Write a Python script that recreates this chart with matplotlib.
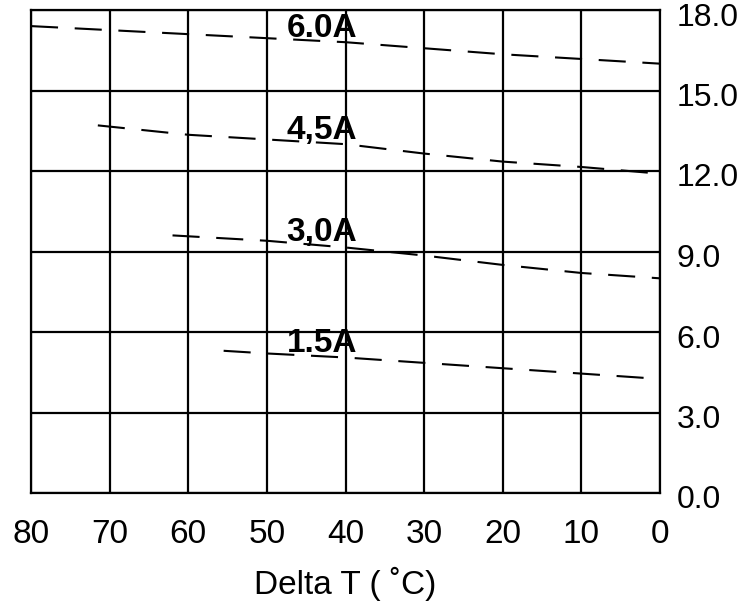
import numpy as np
import matplotlib
matplotlib.use('Agg')
from matplotlib import pyplot as plt
from matplotlib import transforms

# grid / axis ticks
x_ticks = [80, 70, 60, 50, 40, 30, 20, 10, 0]
y_ticks = [0.0, 3.0, 6.0, 9.0, 12.0, 15.0, 18.0]

# current curves (Delta T, value)
labels = ['6.0A', '4,5A', '3,0A', '1.5A']
dt_60 = [80, 60, 40, 20, 0]
v_60 = [17.4, 17.1, 16.8, 16.35, 16.0]
dt_45 = [71.5, 60, 40, 30, 20, 10, 0]
v_45 = [13.7, 13.35, 13.0, 12.65, 12.35, 12.15, 11.9]
dt_30 = [62, 50, 40, 30, 20, 10, 0]
v_30 = [9.6, 9.4, 9.15, 8.85, 8.5, 8.2, 8.0]
dt_15 = [55.5, 50, 40, 30, 20, 10, 0]
v_15 = [5.3, 5.2, 5.05, 4.85, 4.65, 4.45, 4.25]
curves = [(dt_60, v_60), (dt_45, v_45), (dt_30, v_30), (dt_15, v_15)]
label_dt = 43

plt.rcParams['font.family'] = ['Liberation Sans', 'DejaVu Sans']

fig = plt.figure(figsize=(7.56, 6.03), dpi=100)
ax = fig.add_axes([31/756, 1-493/603, (660-31)/756, (493-10)/603])

for dt, v in curves:
    ax.plot(dt, v, color='black', lw=1.5, ls=(0, (13, 8)))

for lab, (dt, v) in zip(labels, curves):
    yl = np.interp(label_dt, dt[::-1], v[::-1])
    ax.annotate(lab, (label_dt, yl), xytext=(0, -2), textcoords='offset points',
                ha='center', va='bottom', fontsize=24, fontweight='bold')

ax.set_xlim(80, 0)
ax.set_ylim(0, 18)
ax.set_xticks(x_ticks)
ax.set_yticks(y_ticks)
ax.set_xticklabels([str(t) for t in x_ticks])
ax.set_yticklabels(['%.1f' % t for t in y_ticks])
ax.grid(True, color='black', lw=1.6)
for s in ax.spines.values():
    s.set_linewidth(1.6)
ax.yaxis.tick_right()
ax.tick_params(axis='both', length=0, labelsize=24)
ax.tick_params(axis='y', labelsize=23)
ax.tick_params(axis='x', pad=19)
ax.tick_params(axis='y', pad=12)
# nudge the right-hand labels down a little, as in the scan
shift = transforms.ScaledTranslation(0, -4/100, fig.dpi_scale_trans)
for t in ax.get_yticklabels():
    t.set_transform(t.get_transform() + shift)
ax.set_xlabel('Delta T ( ˚C)', fontsize=24, labelpad=12)

fig.savefig('out.png', dpi=100)
